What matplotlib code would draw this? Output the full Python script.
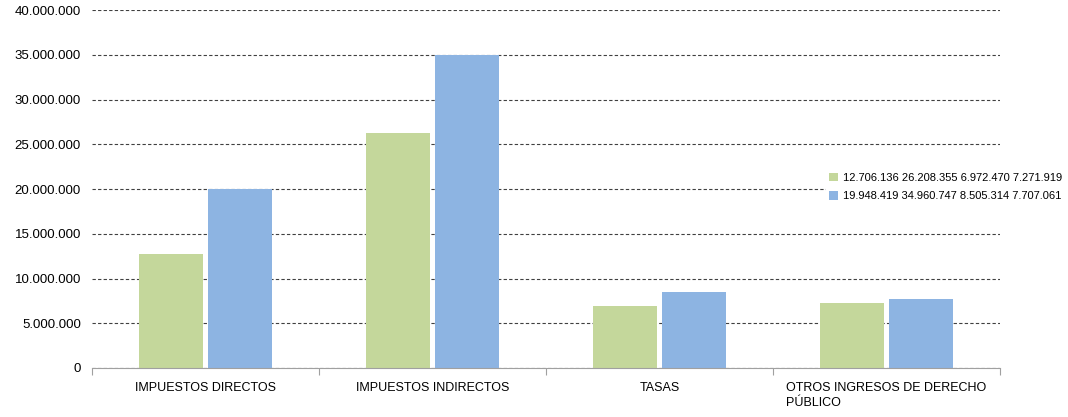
import numpy as np
import matplotlib.pyplot as plt
from matplotlib.ticker import FuncFormatter, FixedLocator

plt.rcParams['font.family'] = ['Liberation Sans', 'DejaVu Sans']

categories = ['IMPUESTOS DIRECTOS', 'IMPUESTOS INDIRECTOS', 'TASAS',
              'OTROS INGRESOS DE DERECHO\nPÚBLICO']
serie_1 = [12706136, 26208355, 6972470, 7271919]
serie_2 = [19948419, 34960747, 8505314, 7707061]
label_1 = '12.706.136 26.208.355 6.972.470 7.271.919'
label_2 = '19.948.419 34.960.747 8.505.314 7.707.061'

fig = plt.figure(figsize=(10.68, 4.17), dpi=100)
ax = fig.add_axes([92 / 1068, 1 - 368 / 417, 908 / 1068, 358 / 417])

x = np.arange(len(categories))
w = 0.28
gap = 0.013
ax.bar(x - w / 2 - gap, serie_1, width=w, color='#C4D79B', label=label_1, zorder=3)
ax.bar(x + w / 2 + gap, serie_2, width=w, color='#8DB4E2', label=label_2, zorder=3)

ax.set_xlim(-0.5, len(categories) - 0.5)
ax.set_ylim(0, 40000000)
ax.set_yticks(np.arange(0, 40000001, 5000000))
ax.yaxis.set_major_formatter(FuncFormatter(lambda v, p: f'{int(v):,}'.replace(',', '.')))
ax.yaxis.grid(True, color='#404040', linestyle=(0, (3, 2)), linewidth=0.8, zorder=0)
ax.tick_params(axis='y', length=0, pad=8, labelsize=9.5)

ax.set_xticks(x)
ax.set_xticklabels(categories, fontsize=9, multialignment='left', linespacing=1.35)
ax.tick_params(axis='x', length=0, pad=10)
ax.xaxis.set_minor_locator(FixedLocator(np.arange(-0.5, len(categories), 1.0)))
ax.tick_params(axis='x', which='minor', length=5, color='#A0A0A0', width=0.8)

for s in ['top', 'right', 'left']:
    ax.spines[s].set_visible(False)
ax.spines['bottom'].set_color('#A0A0A0')
ax.spines['bottom'].set_linewidth(0.8)
ax.spines['bottom'].set_zorder(4)

leg = fig.legend(loc='center left', bbox_to_anchor=(826 / 1068, 1 - 187 / 417),
                 frameon=True, facecolor='white', edgecolor='none', framealpha=1,
                 fancybox=False, borderpad=0.3, borderaxespad=0,
                 fontsize=8, handlelength=0.8, handleheight=0.8,
                 handletextpad=0.4, labelspacing=0.75)
leg.set_zorder(10)

fig.savefig('out.png', dpi=100)
